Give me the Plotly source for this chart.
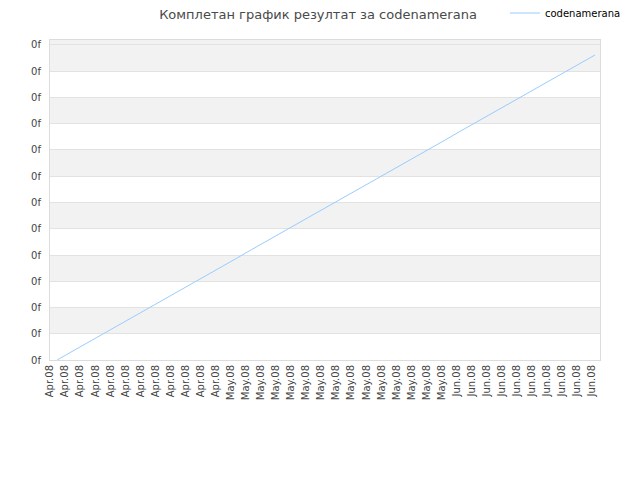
import plotly.graph_objects as go

# ---- data ----
month_labels = (["Apr.08"] * 12) + (["May.08"] * 15) + (["Jun.08"] * 10)
values = [0.00, 0.32, 0.65, 0.97, 1.29, 1.61, 1.94, 2.26, 2.58, 2.91, 3.23, 3.55,
          3.87, 4.20, 4.52, 4.84, 5.17, 5.49, 5.81, 6.13, 6.46, 6.78, 7.10, 7.42,
          7.75, 8.07, 8.39, 8.72, 9.04, 9.36, 9.68, 10.01, 10.33, 10.65, 10.97,
          11.30, 11.62]
y_ticks = list(range(0, 13))
y_tick_labels = ["0f"] * len(y_ticks)
series_name = "codenamerana"
title_text = "Комплетан график резултат за codenamerana"

x_idx = list(range(len(month_labels)))
y_top = 12.19

# page body has an 8px margin; size the figure to the visible area
W, H = 632, 472
L, T, PW, PH = 42, 32, 550, 320

fig = go.Figure()
fig.add_trace(go.Scatter(
    x=x_idx, y=values, mode="lines", name=series_name,
    line=dict(color="#99ccff", width=1),
))

shapes = []
n = len(y_ticks)
for k in range(n - 1, 0, -2):
    lo, hi = y_ticks[k - 1], y_ticks[k]
    if k == n - 1:
        hi = y_top
    shapes.append(dict(type="rect", xref="paper", yref="y", x0=0, x1=1,
                       y0=lo, y1=hi, fillcolor="#f2f2f2", line=dict(width=0),
                       layer="below"))

fig.update_layout(
    width=W, height=H,
    margin=dict(l=L, r=W - L - PW, t=T, b=H - T - PH, autoexpand=False),
    paper_bgcolor="white", plot_bgcolor="white",
    font=dict(family="DejaVu Sans", size=10, color="#444444"),
    title=dict(text=title_text, x=(318 - 8) / W, xanchor="center", xref="container",
               y=1 - 6 / H, yref="container", yanchor="middle",
               font=dict(family="DejaVu Sans", size=13, color="#4a4a4a")),
    showlegend=True,
    legend=dict(x=(505 - 50) / PW, xanchor="left", y=1 + 27 / PH, yanchor="middle",
                bgcolor="rgba(0,0,0,0)", font=dict(family="DejaVu Sans", size=10, color="#000000")),
    shapes=shapes,
    xaxis=dict(
        range=[-0.47, 36.33],
        tickvals=[i - 0.465 + 0.0075 * i for i in x_idx], ticktext=month_labels,
        tickangle=-90, showgrid=False, zeroline=False,
        showline=True, linecolor="#dcdcdc", mirror=True, ticks="",
        tickfont=dict(family="DejaVu Sans", size=10, color="#444444"),
    ),
    yaxis=dict(
        range=[0, y_top],
        tickvals=y_ticks, ticktext=y_tick_labels, ticklabelstandoff=6,
        showgrid=True, gridcolor="#e2e2e2", gridwidth=1, zeroline=False,
        showline=True, linecolor="#dcdcdc", mirror=True, ticks="",
        tickfont=dict(family="DejaVu Sans", size=10, color="#444444"),
    ),
)

fig.write_html("out.html")
